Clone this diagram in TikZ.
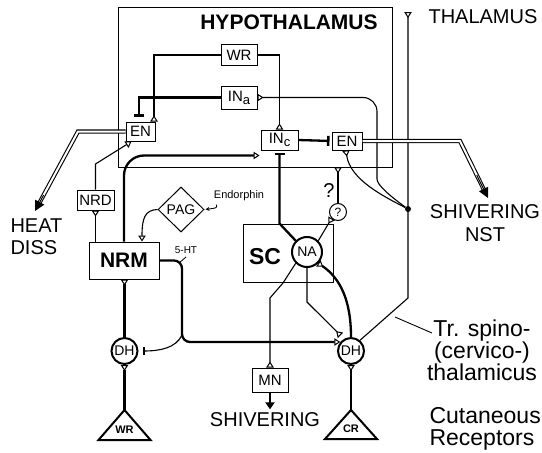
\documentclass[tikz,border=0pt]{standalone}
\usepackage{fontspec}
\setmainfont{Liberation Sans}
\usetikzlibrary{arrows.meta,shapes.geometric,calc}
\begin{document}
\begin{tikzpicture}[x=1pt,y=-1pt,
  fs/.style={font=\fontsize{#1}{#1}\selectfont},
  fb/.style={font=\fontsize{#1}{#1}\selectfont\bfseries},
  bx/.style={draw, line width=1pt, inner sep=0pt, font=\fontsize{15}{15}\selectfont},
  circ/.style={draw, circle, line width=2pt, inner sep=0pt, minimum size=26pt, font=\fontsize{14}{14}\selectfont},
  thinl/.style={line width=1.1pt},
  thickl/.style={line width=2.3pt},
  excR/.style={-{Triangle[open,reversed,length=6pt,width=7.5pt,line width=1pt]}},
  excN/.style={-{Triangle[open,length=6pt,width=7.5pt,line width=1pt]}},
  inh/.style={-{Bar[width=10pt,line width=2.5pt]}},
  dbl/.style={double, double distance=2pt, line width=1.1pt, shorten >=8pt},
  dtip/.style={line width=1pt, -{Triangle[length=10pt,width=10pt]}},
]
\useasboundingbox (0,0) rectangle (542,453);
% frame
\node[draw, line width=0.8pt, minimum width=274pt, minimum height=160pt, inner sep=0pt] (HYP) at (255,87) {};
\node[fb=21] (hyplbl) at (289,22) {HYPOTHALAMUS};
\node[anchor=west, fs=20] (thallbl) at (425,17) {THALAMUS};
% boxes
\node[bx, minimum width=36pt, minimum height=21pt] (WR) at (239,55) {WR};
\node[bx, minimum width=36pt, minimum height=23pt] (INa) at (239,97.5) {IN\raisebox{-3pt}{\fontsize{13}{13}\selectfont a}};
\node[bx, minimum width=37pt, minimum height=20pt] (INc) at (279.5,140) {IN\raisebox{-3pt}{\fontsize{13}{13}\selectfont c}};
\node[bx, minimum width=29pt, minimum height=19pt] (ENl) at (140.5,131.5) {EN};
\node[bx, minimum width=30pt, minimum height=18pt] (ENr) at (347,141) {EN};
\node[bx, minimum width=37pt, minimum height=20pt] (NRD) at (95.5,200) {NRD};
\node[bx, minimum width=70pt, minimum height=37pt, fb=21] (NRM) at (124,260.5) {NRM};
\node[draw, diamond, line width=1pt, inner sep=0pt, minimum width=46pt, minimum height=45pt, fs=14] (PAG) at (181,209.5) {PAG};
\node[bx, minimum width=90pt, minimum height=58pt] (SC) at (288,253) {};
\node[fb=23] (sclbl) at (265,257) {SC};
\node[circ, minimum size=30pt] (NA) at (307,252) {NA};
\node[draw, circle, line width=1pt, minimum size=17pt, inner sep=0pt, fs=12] (Q) at (338,212) {?};
\node[fs=20] (qlbl) at (329,191) {?};
\node[circ] (DHl) at (124.5,351) {DH};
\node[circ] (DHr) at (351,351) {DH};
\node[bx, minimum width=36pt, minimum height=24pt] (MN) at (270,380) {MN};
\node[fs=20] (shiv) at (265,420) {SHIVERING};
\node[fill, circle, inner sep=0pt, minimum size=6pt] (dot) at (408,209) {};
% receptor triangles
\draw[line width=2pt, line join=miter] (124.5,410) -- (150.5,440) -- (98.5,440) -- cycle;
\coordinate (wrtop) at (124.5,410);
\node[fb=11] (wrlbl) at (124.5,430) {WR};
\draw[line width=2pt, line join=miter] (351,410) -- (377,439) -- (325,439) -- cycle;
\coordinate (crtop) at (351,410);
\node[fb=11] (crlbl) at (351,429) {CR};
% labels
\node[align=left, anchor=west, font=\fontsize{20}{22}\selectfont] (heat) at (7,237) {HEAT\\DISS};
\node[align=center, font=\fontsize{20}{23}\selectfont] (nst) at (485,223.5) {SHIVERING\\NST};
\node[align=center, font=\fontsize{23}{22}\selectfont] (tract) at (482,350) {Tr. spino-\\(cervico-)\\thalamicus};
\node[align=left, anchor=west, font=\fontsize{23}{22}\selectfont] (cut) at (426,429) {Cutaneous\\Receptors};
\node[fs=10] (ht) at (186,250) {5-HT};
\node[fs=11] (endo) at (239,196) {Endorphin};
% coordinates
\coordinate (tbend) at (408,298);
\coordinate (thaltop) at (408,12);
\coordinate (ls) at (395,317);
\coordinate (le) at (432,333);
\coordinate (hb) at (78,131.5);
\coordinate (ha) at (35,211);
\coordinate (nb2) at (460,141);
\coordinate (na) at (488,198);
\coordinate (nrdb) at (95.5,164);
\coordinate (mnb) at (283,283);
\coordinate (mnb2) at (270,298);
\coordinate (nab) at (308,302);
\coordinate (nb) at (182,300);
\coordinate (nbr) at (182,335);
\coordinate (tk) at (179,263);
% hypothalamic connections
\draw[thinl, excR] (WR.west) -| ([xshift=-1.5pt]ENl.north east);
\draw[thinl, excR] (WR.east) -| (INc.north);
\draw[thickl, inh, shorten >=5pt] (INa.west) -| ([xshift=-1.5pt]ENl.north);
\draw[thinl, excR, rounded corners=14pt] (dot) .. controls (390,196) and (377,185) .. (377,165) -- (377,97.5) -- (INa.east);
\draw[thinl, excR] (dot) .. controls (385,197) and (350,180) .. ([xshift=-1pt]ENr.south);
\draw[thinl, excR] (DHr.50) -- (tbend) -- (thaltop);
\draw[line width=0.9pt] (ls) -- (le);
\draw[dbl] (ENl.west) -- (hb) -- (ha);
\draw[dtip] ($(hb)!0.8!(ha)$) -- (ha);
\draw[dbl] (ENr.east) -- (nb2) -- (na);
\draw[dtip] ($(nb2)!0.6!(na)$) -- (na);
\draw[thickl, inh, shorten >=2pt] (INc.east) -- (ENr.west);
% brainstem
\draw[thinl, excN] (NRD.north) -- (nrdb) -- ([xshift=-9pt]ENl.south);
\draw[thinl, excR] (NRD.south |- NRM.north) -- (NRD.south);
\draw[thinl, excN] (PAG.west) .. controls (145,210) and (142,218) .. ([xshift=18pt]NRM.north);
\draw[line width=0.9pt, -{Stealth[length=4pt,width=4pt]}, shorten >=1pt] ([xshift=6pt]endo.south west) .. controls (217,208) .. (PAG.east);
\draw[thickl, excN, rounded corners=20pt] (NRM.north) |- ([xshift=-1pt,yshift=-5pt]INc.south west);
\draw[thickl, excN, rounded corners=8pt] (NRM.east) -| (nb) |- (DHr.140);
\draw[thinl, -{Bar[width=8pt,line width=2pt]}, shorten >=4pt] (nbr) .. controls (176,348) and (160,351) .. (DHl.east);
\draw[line width=0.8pt] (ht.south) -- (tk);
\draw[thickl, excR] (DHl.north) -- (DHl.north |- NRM.south);
\draw[thickl, excR] (wrtop) -- (DHl.south);
\draw[thickl, excR] (crtop) -- (DHr.south);
% spinal cord
\draw[thickl, inh, shorten >=2pt] (NA.135) -- (INc.south |- SC.north) -- (INc.south);
\draw[thinl, excR] (NA.45) -- (Q.225);
\draw[thickl, excR] (Q.north) -- (Q.north |- HYP.south);
\draw[thinl, excR] (NA.225) -- (mnb) -- (mnb2) -- (MN.north);
\draw[thinl, excR, shorten >=5pt] (NA.south) -- (NA.south |- nab) -- (DHr.120);
\draw[thickl, excR] (DHr.north) .. controls (351,300) and (340,278) .. (NA.-45);
\draw[thickl, -{Triangle[length=7pt,width=9pt]}] (MN.south) -- (MN.south |- shiv.north);
\end{tikzpicture}
\end{document}
